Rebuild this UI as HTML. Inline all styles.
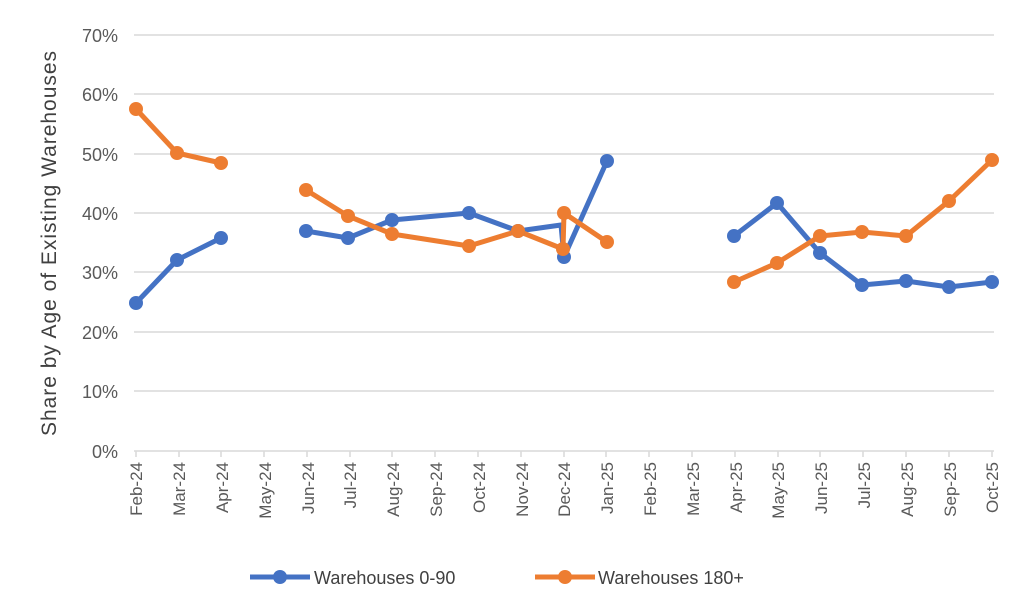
<!DOCTYPE html><html><head><style>body{margin:0;background:#fff}svg{font-family:"Liberation Sans",sans-serif}</style></head><body>
<svg width="1024" height="606" xmlns="http://www.w3.org/2000/svg">
<g stroke="#d9d9d9" stroke-width="1.5">
<line x1="134" x2="994" y1="35" y2="35"/><line x1="134" x2="994" y1="94" y2="94"/><line x1="134" x2="994" y1="154" y2="154"/><line x1="134" x2="994" y1="213" y2="213"/><line x1="134" x2="994" y1="272" y2="272"/><line x1="134" x2="994" y1="332" y2="332"/><line x1="134" x2="994" y1="391" y2="391"/><line x1="134" x2="994" y1="451" y2="451"/>
<path d="M136 451v6M179 451v6M221 451v6M264 451v6M307 451v6M350 451v6M392 451v6M435 451v6M478 451v6M521 451v6M564 451v6M606 451v6M649 451v6M692 451v6M735 451v6M778 451v6M820 451v6M863 451v6M906 451v6M949 451v6M992 451v6"/>
</g>
<g font-size="18" fill="#595959" text-anchor="end">
<text x="118" y="42">70%</text><text x="118" y="101">60%</text><text x="118" y="161">50%</text><text x="118" y="220">40%</text><text x="118" y="279">30%</text><text x="118" y="339">20%</text><text x="118" y="398">10%</text><text x="118" y="458">0%</text>
</g>
<text transform="translate(56,436) rotate(-90)" font-size="21" fill="#404040" textLength="385" lengthAdjust="spacing">Share by Age of Existing Warehouses</text>
<g font-size="17" fill="#595959" text-anchor="end">
<text transform="translate(142,462) rotate(-90)">Feb-24</text><text transform="translate(185,462) rotate(-90)">Mar-24</text><text transform="translate(228,462) rotate(-90)">Apr-24</text><text transform="translate(271,462) rotate(-90)">May-24</text><text transform="translate(314,462) rotate(-90)">Jun-24</text><text transform="translate(356,462) rotate(-90)">Jul-24</text><text transform="translate(399,462) rotate(-90)">Aug-24</text><text transform="translate(442,462) rotate(-90)">Sep-24</text><text transform="translate(485,462) rotate(-90)">Oct-24</text><text transform="translate(528,462) rotate(-90)">Nov-24</text><text transform="translate(570,462) rotate(-90)">Dec-24</text><text transform="translate(613,462) rotate(-90)">Jan-25</text><text transform="translate(656,462) rotate(-90)">Feb-25</text><text transform="translate(699,462) rotate(-90)">Mar-25</text><text transform="translate(742,462) rotate(-90)">Apr-25</text><text transform="translate(784,462) rotate(-90)">May-25</text><text transform="translate(827,462) rotate(-90)">Jun-25</text><text transform="translate(870,462) rotate(-90)">Jul-25</text><text transform="translate(913,462) rotate(-90)">Aug-25</text><text transform="translate(956,462) rotate(-90)">Sep-25</text><text transform="translate(998,462) rotate(-90)">Oct-25</text>
</g>
<g fill="none" stroke-width="5" stroke-linejoin="round">
<g stroke="#4472c4">
<polyline points="136,303 177,260 221,238"/>
<polyline points="306,231 348,238 392,220 469,213 518,231 561,225 564,257 607,161"/>
<polyline points="734,236 777,203 820,253 862,285 906,281 949,287 992,282"/>
</g>
<g stroke="#ed7d31">
<polyline points="136,109 177,153 221,163"/>
<polyline points="306,190 348,216 392,234 469,246 518,231 563,249 564,213 607,242"/>
<polyline points="734,282 777,263 820,236 862,232 906,236 949,201 992,160"/>
</g>
</g>
<g fill="#4472c4">
<circle cx="136" cy="303" r="7"/><circle cx="177" cy="260" r="7"/><circle cx="221" cy="238" r="7"/><circle cx="306" cy="231" r="7"/><circle cx="348" cy="238" r="7"/><circle cx="392" cy="220" r="7"/><circle cx="469" cy="213" r="7"/><circle cx="518" cy="231" r="7"/><circle cx="564" cy="257" r="7"/><circle cx="607" cy="161" r="7"/><circle cx="734" cy="236" r="7"/><circle cx="777" cy="203" r="7"/><circle cx="820" cy="253" r="7"/><circle cx="862" cy="285" r="7"/><circle cx="906" cy="281" r="7"/><circle cx="949" cy="287" r="7"/><circle cx="992" cy="282" r="7"/>
</g>
<g fill="#ed7d31">
<circle cx="136" cy="109" r="7"/><circle cx="177" cy="153" r="7"/><circle cx="221" cy="163" r="7"/><circle cx="306" cy="190" r="7"/><circle cx="348" cy="216" r="7"/><circle cx="392" cy="234" r="7"/><circle cx="469" cy="246" r="7"/><circle cx="518" cy="231" r="7"/><circle cx="563" cy="249" r="7"/><circle cx="564" cy="213" r="7"/><circle cx="607" cy="242" r="7"/><circle cx="734" cy="282" r="7"/><circle cx="777" cy="263" r="7"/><circle cx="820" cy="236" r="7"/><circle cx="862" cy="232" r="7"/><circle cx="906" cy="236" r="7"/><circle cx="949" cy="201" r="7"/><circle cx="992" cy="160" r="7"/>
</g>
<line x1="250" x2="310" y1="577" y2="577" stroke="#4472c4" stroke-width="5"/><circle cx="280" cy="577" r="7" fill="#4472c4"/>
<text x="314" y="584" font-size="18" fill="#404040">Warehouses 0-90</text>
<line x1="535" x2="595" y1="577" y2="577" stroke="#ed7d31" stroke-width="5"/><circle cx="565" cy="577" r="7" fill="#ed7d31"/>
<text x="598" y="584" font-size="18" fill="#404040">Warehouses 180+</text>
</svg></body></html>
